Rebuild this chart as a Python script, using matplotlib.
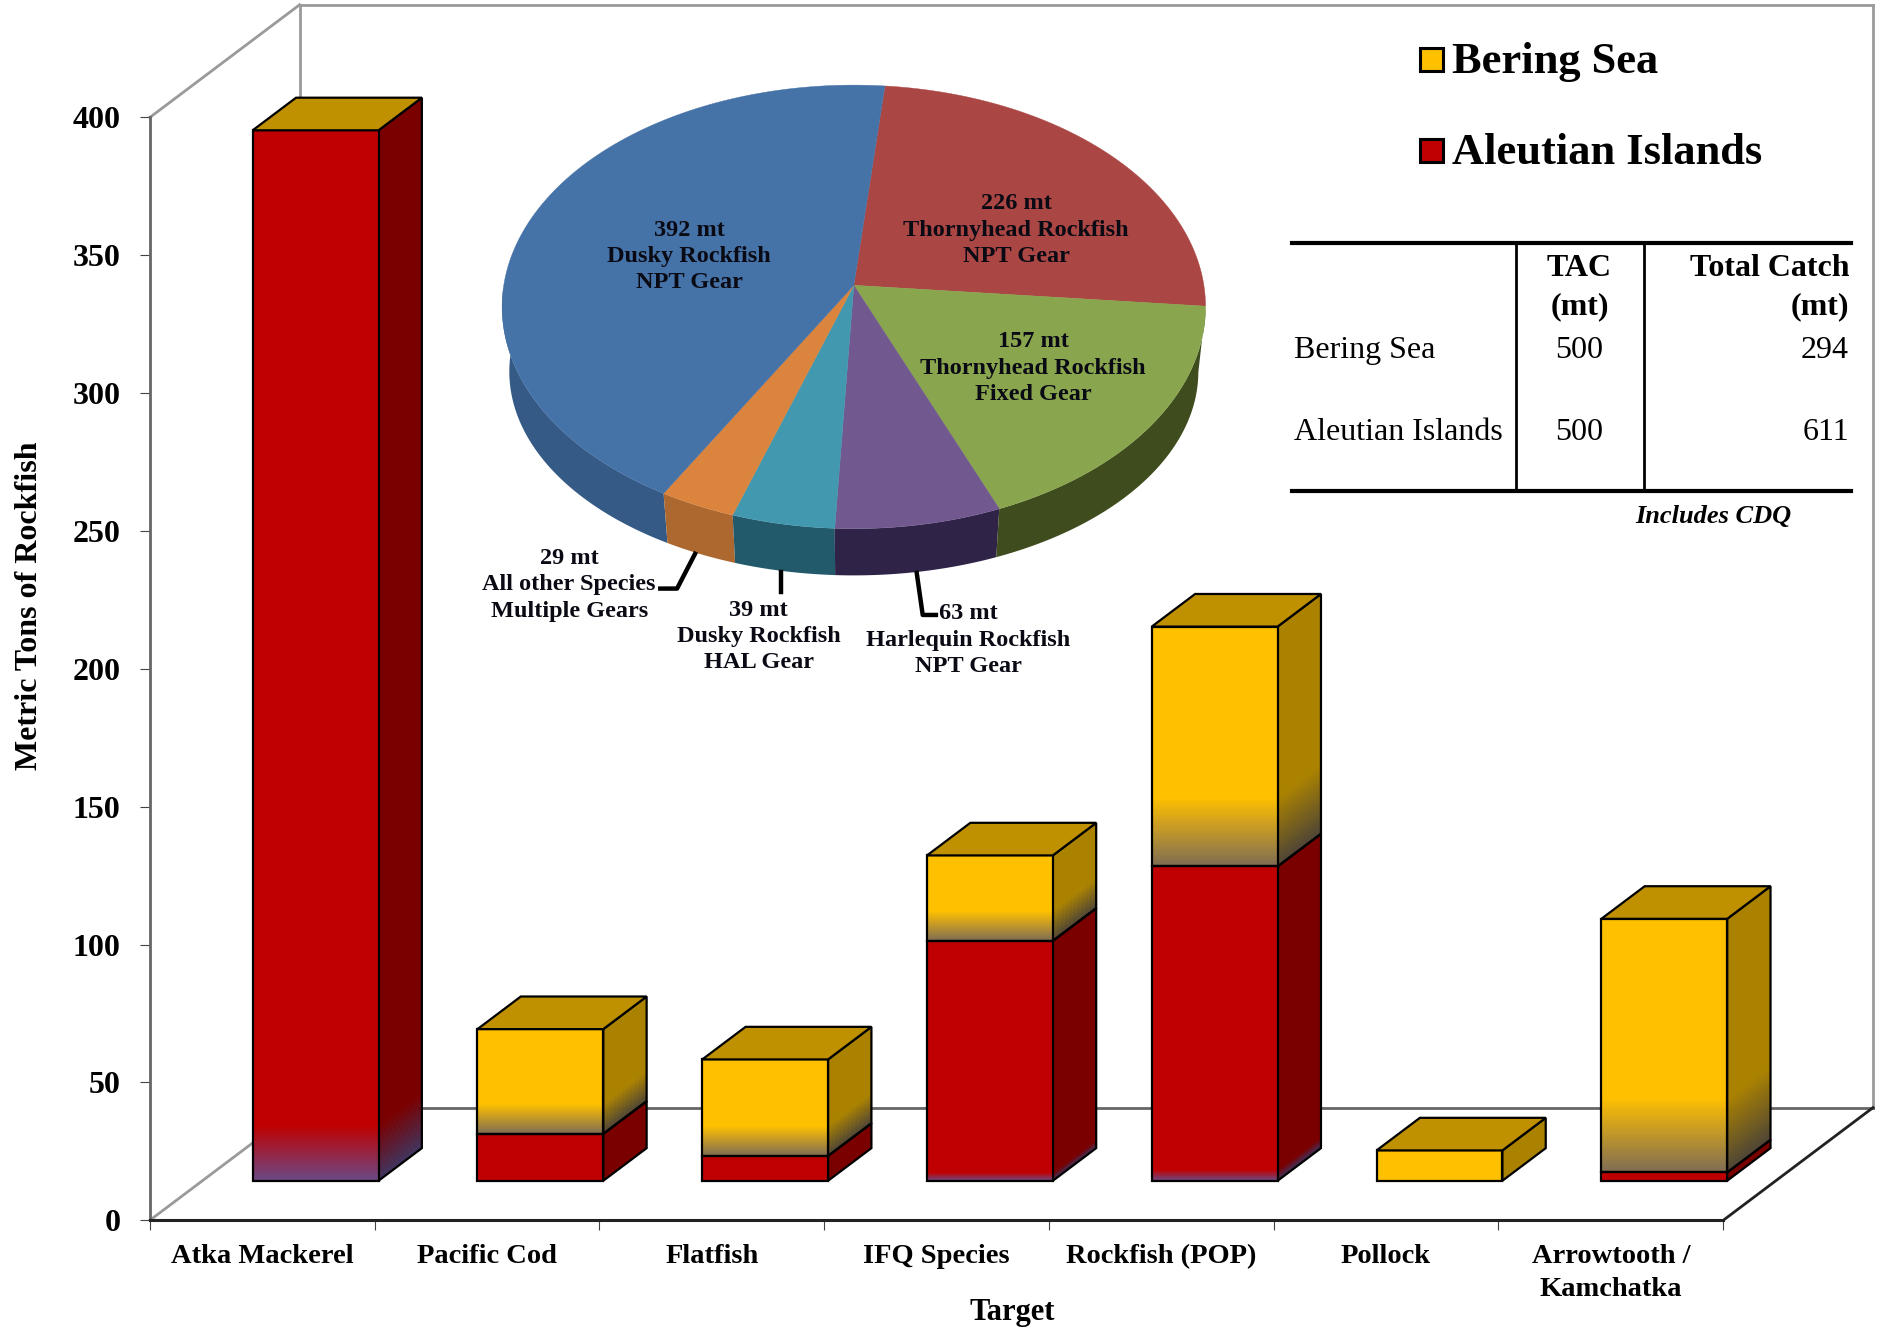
import numpy as np
import matplotlib
matplotlib.use('Agg')
import matplotlib.pyplot as plt
from matplotlib.lines import Line2D
from matplotlib.patches import Rectangle
from matplotlib.colors import to_rgb

plt.rcParams['font.family'] = ['Liberation Serif', 'DejaVu Serif']

targets = ['Atka Mackerel', 'Pacific Cod', 'Flatfish', 'IFQ Species', 'Rockfish (POP)',
           'Pollock', 'Arrowtooth /\nKamchatka']
aleutian = [381, 17, 9, 87, 114, 0, 3]
bering = [0, 38, 35, 31, 87, 11, 92]
yticks = [0, 50, 100, 150, 200, 250, 300, 350, 400]

pie_values = [226, 157, 63, 39, 29, 392]
pie_labels = ['226 mt\nThornyhead Rockfish\nNPT Gear',
              '157 mt\nThornyhead Rockfish\nFixed Gear',
              '63 mt\nHarlequin Rockfish\nNPT Gear',
              '39 mt\nDusky Rockfish\nHAL Gear',
              '29 mt\nAll other Species\nMultiple Gears',
              '392 mt\nDusky Rockfish\nNPT Gear']

table_rows = ['Bering Sea', 'Aleutian Islands']
table_tac = [500, 500]
table_catch = [294, 611]

# styles, not data
pie_top = ['#AA4643', '#89A54E', '#71588F', '#4198AF', '#DB843D', '#4572A7']
pie_side = ['#7f3432', '#3f4c1e', '#2f2448', '#235a6b', '#ad682f', '#365a86']
pie_label_pos = [(848, 192), (862, 307), (808, 534), (633, 531), (475, 488), (575, 214)]
yellow_fade = [0, 11, 11, 11, 25, 0, 27]
red_fade = [20, 0, 0, 3, 4, 0, 0]
YELLOW, YELLOW_SIDE, GOLD_TOP = '#FFC000', '#AB8200', '#BF9000'
RED, RED_SIDE = '#C00000', '#7A0000'
YELLOW_END, YELLOW_SIDE_END = '#7d6b55', '#4d4436'
PURPLE_END, PURPLE_SIDE_END = '#6a4a86', '#3f3560'

W, H = 1568.0, 1107.0


def fx(x):
    return x / W


def fy(y):
    return 1 - y / H


fig = plt.figure(figsize=(18.79, 13.27), dpi=100)
ax = fig.add_axes([fx(125), fy(1018), (1438 - 125) / W, (1018 - 98) / H])
ax.set_xlim(0, 7)
ax.set_ylim(0, 400)

# oblique projection: a full step back in depth moves this far in data units
DX = 125 / (1313 / 7)
DY = 94 / (920 / 400)
BAR_D0, BAR_D1 = 33 / 94, 60.2 / 94
BAR_W = 105 / (1313 / 7)
BAR_SHIFT = 0.7 / (1313 / 7)


def proj(x, v, d):
    return x + d * DX, v + d * DY


def poly(x0, d0, x1, d1, v0, v1, color, z, edge):
    pts = [proj(x0, v0, d0), proj(x1, v0, d1), proj(x1, v1, d1), proj(x0, v1, d0)]
    xs, ys = zip(*pts)
    if edge is None:
        ax.fill(xs, ys, color=color, lw=0, zorder=z, clip_on=False)
    else:
        ax.fill(xs, ys, facecolor='none', edgecolor=edge, lw=1.6, zorder=z, clip_on=False)


def face(x0, d0, x1, d1, v0, v1, color, end, fade, z):
    """Vertical face from v0 to v1, colour going to end in the lowest fade units."""
    c0, c1 = np.array(to_rgb(color)), np.array(to_rgb(end))
    levels = list(np.linspace(v0, v0 + fade, 31)) if fade > 0 else [v0]
    for k in range(len(levels) - 1):
        f = (k + 0.5) / (len(levels) - 1)
        col = c1 * (1 - f) + c0 * f
        poly(x0, d0, x1, d1, levels[k], levels[k + 1] + 0.3, col, z, None)
    poly(x0, d0, x1, d1, v0 + fade, v1, color, z, None)
    poly(x0, d0, x1, d1, v0, v1, 'none', z + 0.1, 'black')


# walls and floor
wall = [((0, 400, 0), (0, 400, 1)), ((0, 400, 1), (7, 400, 1)), ((0, 0, 1), (0, 400, 1)),
        ((7, 0, 1), (7, 400, 1)), ((0, 0, 0), (0, 0, 1))]
for a, b in wall:
    xa, ya = proj(*a)
    xb, yb = proj(*b)
    ax.plot([xa, xb], [ya, yb], color='#9a9a9a', lw=2, clip_on=False, zorder=1)
xa, ya = proj(0, 0, 1)
xb, yb = proj(7, 0, 1)
ax.plot([xa, xb], [ya, yb], color='#666666', lw=2, clip_on=False, zorder=1)
xa, ya = proj(7, 0, 0)
xb, yb = proj(7, 0, 1)
ax.plot([xa, xb], [ya, yb], color='#222222', lw=2, clip_on=False, zorder=1)

# stacked 3d bars
for i in range(len(targets)):
    left = i + 0.5 - BAR_W / 2 + BAR_SHIFT
    right = left + BAR_W
    z = 2 + i
    r, y = aleutian[i], bering[i]
    if r > 0:
        face(left, BAR_D0, right, BAR_D0, 0, r, RED, PURPLE_END, red_fade[i], z + 0.2)
        face(right, BAR_D0, right, BAR_D1, 0, r, RED_SIDE, PURPLE_SIDE_END, red_fade[i], z)
    if y > 0:
        face(left, BAR_D0, right, BAR_D0, r, r + y, YELLOW, YELLOW_END, yellow_fade[i], z + 0.2)
        face(right, BAR_D0, right, BAR_D1, r, r + y, YELLOW_SIDE, YELLOW_SIDE_END, yellow_fade[i], z)
    t = r + y
    pts = [proj(left, t, BAR_D0), proj(right, t, BAR_D0), proj(right, t, BAR_D1), proj(left, t, BAR_D1)]
    xs, ys = zip(*pts)
    ax.fill(xs, ys, facecolor=GOLD_TOP, edgecolor='black', lw=1.6, zorder=z + 0.5, clip_on=False)

ax.patch.set_visible(False)
ax.spines['top'].set_visible(False)
ax.spines['right'].set_visible(False)
ax.spines['left'].set_color('#666666')
ax.spines['left'].set_linewidth(2)
ax.spines['bottom'].set_color('#222222')
ax.spines['bottom'].set_linewidth(2.2)
ax.set_yticks(yticks)
ax.set_yticklabels([str(v) for v in yticks], fontsize=23, fontweight='bold')
ax.set_xticks(range(8))
ax.set_xticklabels([])
ax.set_xticks(np.arange(7) + 0.5, labels=targets, minor=True, fontsize=20.5, fontweight='bold',
              linespacing=1.4)
ax.tick_params(axis='x', which='minor', length=0, pad=17)
ax.tick_params(axis='x', which='major', length=7, color='#444444')
ax.tick_params(axis='y', length=7, color='#444444', pad=14)
ax.set_ylabel('Metric Tons of Rockfish', fontsize=23, fontweight='bold', va='center')
ax.yaxis.set_label_coords((25 - 125) / 1313, (1018 - 505) / 920)
ax.set_xlabel('Target', fontsize=22, fontweight='bold')
ax.xaxis.set_label_coords((845 - 125) / 1313, -(1095 - 1018) / 920)
ax.xaxis.label.set_va('center')

# pie: the disc is tilted, so rim angles go through a perspective map
pie_ax = fig.add_axes([fx(419), fy(441), 587 / W, 370 / H])
pie_ax.set_xlim(-1, 1)
pie_ax.set_ylim(-1, 1)
pie_ax.axis('off')
E = 18 / 185
START = 84.4


def rim_angle(a):
    a = np.radians(a)
    d = 1 + E * np.sin(a)
    return np.arctan2((np.sin(a) + E) / d, np.cos(a) * np.sqrt(1 - E ** 2) / d)


shares = np.array(pie_values) / sum(pie_values) * 360
starts = START - np.concatenate([[0], np.cumsum(shares)[:-1]])
for k in [5, 4, 3, 2, 1, 0]:
    al = np.linspace(starts[k], starts[k] - shares[k], 150)
    t = rim_angle(al)
    top_x, top_y = np.cos(t), np.sin(t)
    low_x, low_y = 287 / 293 * np.cos(t), -54 / 185 + 170 / 185 * np.sin(t)
    m = (top_y < 0) | ((top_y < 0.1) & (top_x < 0))
    if m.any():
        pie_ax.fill(np.r_[top_x[m], low_x[m][::-1]], np.r_[top_y[m], low_y[m][::-1]],
                    color=pie_side[k], lw=0, zorder=1, clip_on=False)
for k in range(6):
    al = np.linspace(starts[k], starts[k] - shares[k], 150)
    t = rim_angle(al)
    pie_ax.fill(np.r_[0, np.cos(t)], np.r_[E, np.sin(t)], color=pie_top[k], lw=0.3, zorder=2, clip_on=False)

for txt, (px, py) in zip(pie_labels, pie_label_pos):
    fig.text(fx(px), fy(py), txt, ha='center', va='center', fontsize=17.5, fontweight='bold',
             linespacing=1.34, color='#0a0a14')

leaders = [([580, 565, 551], [462, 491, 491]), ([652, 652], [477, 494]), ([765, 770, 781], [478, 513, 513])]
for lx, ly in leaders:
    fig.add_artist(Line2D([fx(v) for v in lx], [fy(v) for v in ly], color='black', lw=3.2))

# legend
for name, col, y in [('Bering Sea', YELLOW, 49), ('Aleutian Islands', RED, 125)]:
    fig.add_artist(Rectangle((fx(1185), fy(y + 10)), 19 / W, 19 / H, facecolor=col, edgecolor='black',
                             lw=2.2, transform=fig.transFigure))
    fig.text(fx(1212), fy(y + 3), name, ha='left', va='center', fontsize=32, fontweight='bold')

# table
for y in [203, 410]:
    fig.add_artist(Line2D([fx(1078), fx(1545)], [fy(y), fy(y)], color='black', lw=3))
for x in [1265, 1372]:
    fig.add_artist(Line2D([fx(x), fx(x)], [fy(203), fy(410)], color='black', lw=2))
fig.text(fx(1318), fy(224), 'TAC', ha='center', va='center', fontsize=23, fontweight='bold')
fig.text(fx(1318), fy(256), '(mt)', ha='center', va='center', fontsize=23, fontweight='bold')
fig.text(fx(1543), fy(224), 'Total Catch', ha='right', va='center', fontsize=23, fontweight='bold')
fig.text(fx(1543), fy(256), '(mt)', ha='right', va='center', fontsize=23, fontweight='bold')
for name, tac, catch, y in zip(table_rows, table_tac, table_catch, [292, 361]):
    fig.text(fx(1080), fy(y), name, ha='left', va='center', fontsize=23)
    fig.text(fx(1318), fy(y), str(tac), ha='center', va='center', fontsize=23)
    fig.text(fx(1543), fy(y), str(catch), ha='right', va='center', fontsize=23)
fig.text(fx(1430), fy(431), 'Includes CDQ', ha='center', va='center', fontsize=19,
         fontweight='bold', fontstyle='italic')

fig.savefig('out.png', dpi=100)
